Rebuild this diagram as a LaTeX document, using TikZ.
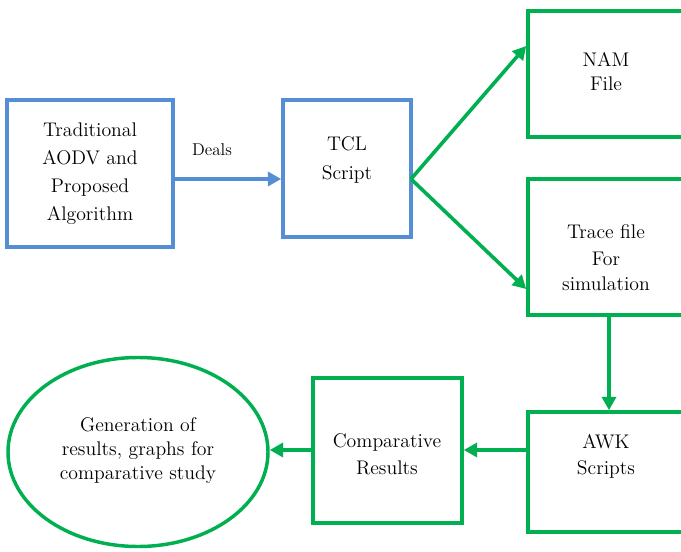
\documentclass[tikz,border=0pt]{standalone}
\usepackage{fix-cm}
\usetikzlibrary{arrows.meta,shapes.geometric}
\definecolor{bblue}{RGB}{85,142,213}
\definecolor{ggreen}{RGB}{0,176,80}
\tikzset{
  bluebox/.style={draw=bblue,line width=2.7pt,rectangle,inner sep=0pt},
  greenbox/.style={draw=ggreen,line width=2.7pt,rectangle,inner sep=0pt},
  txt/.style={align=center,inner sep=0pt},
  barrow/.style={draw=bblue,line width=2.7pt,-{Triangle[length=10pt,width=10.5pt]}},
  garrow/.style={draw=ggreen,line width=2.7pt,-{Triangle[length=10pt,width=10.5pt]}},
}
\begin{document}
\begin{tikzpicture}[x=0.75pt,y=-0.75pt]
\clip (0,0) rectangle (681,552);
\fill[white] (0,0) rectangle (681,552);
% boxes
\node[bluebox,minimum width=166*0.75pt,minimum height=147*0.75pt] (A) at (90,173.5) {};
\node[bluebox,minimum width=128*0.75pt,minimum height=137*0.75pt] (B) at (347,168.5) {};
\node[greenbox,minimum width=158*0.75pt,minimum height=126*0.75pt] (C) at (607,74) {};
\node[greenbox,minimum width=158*0.75pt,minimum height=136*0.75pt] (D) at (607,247) {};
\node[greenbox,minimum width=158*0.75pt,minimum height=120*0.75pt] (E) at (607,472) {};
\node[greenbox,minimum width=149*0.75pt,minimum height=145*0.75pt] (F) at (387.5,450.5) {};
\node[draw=ggreen,line width=2.6pt,ellipse,inner sep=0pt,minimum width=260*0.75pt,minimum height=189*0.75pt] (G) at (138,452) {};
% texts
\node[txt,font=\fontsize{14.8}{21}\selectfont] (At) at (90,174) {Traditional\\AODV and\\Proposed\\Algorithm};
\node[txt,font=\fontsize{14.8}{21.5}\selectfont] (Bt) at (347,160) {TCL\\Script};
\node[txt,font=\fontsize{14.8}{18}\selectfont] (Ct) at (606,72) {NAM\\File};
\node[txt,font=\fontsize{14.8}{19}\selectfont] (Dt) at (606,258) {Trace file\\[1pt]For\\simulation};
\node[txt,font=\fontsize{14.8}{19.5}\selectfont] (Et) at (606,456) {AWK\\Scripts};
\node[txt,font=\fontsize{14.8}{20}\selectfont] (Ft) at (387,454) {Comparative\\Results};
\node[txt,font=\fontsize{14.8}{18}\selectfont] (Gt) at (138,451) {Generation of\\results, graphs for\\comparative study};
\node[inner sep=0pt,font=\fontsize{12.8}{16}\selectfont] (lbl) at (212,150) {Deals};
% connectors
\draw[barrow] (A.east |- 0,179) -- (B.west |- 0,179);
\coordinate (Bout) at (411,179);
\draw[garrow] (Bout) -- (C.west |- 0,46);
\draw[garrow] (Bout) -- (D.west |- 0,289);
\draw[garrow] (D.south -| 609,0) -- (E.north -| 609,0);
\draw[garrow] (E.west |- 0,450) -- (F.east |- 0,450);
\draw[garrow] (F.west |- 0,450) -- (G.east |- 0,450);
\end{tikzpicture}
\end{document}
